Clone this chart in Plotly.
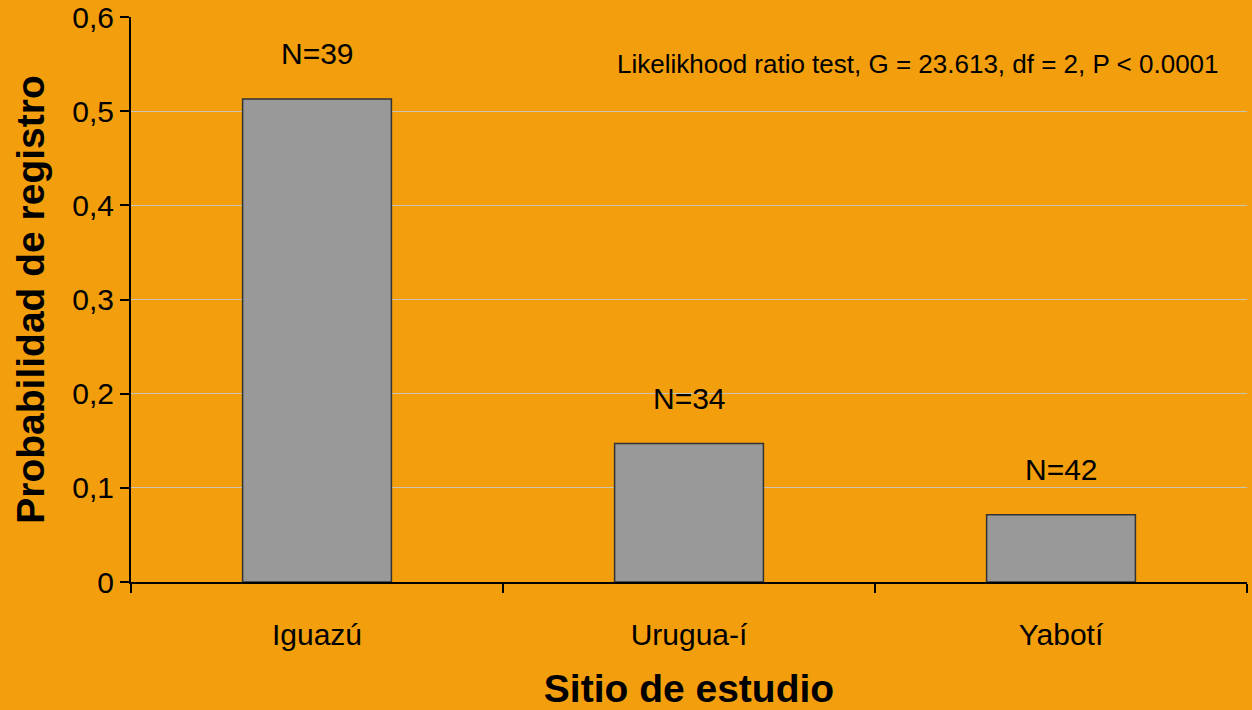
import plotly.graph_objects as go

sitios = ["Iguazú", "Urugua-í", "Yabotí"]
probabilidad = [0.513, 0.147, 0.0714]
n_labels = ["N=39", "N=34", "N=42"]
y_ticks = [0, 0.1, 0.2, 0.3, 0.4, 0.5, 0.6]

fondo = "#F39E0C"

fig = go.Figure()

fig.add_trace(go.Bar(
    x=sitios,
    y=probabilidad,
    marker=dict(color="#999999", line=dict(color="#333333", width=1.5)),
    width=0.4,
    showlegend=False
))

# etiquetas N sobre las barras
for s, p, n in zip(sitios, probabilidad, n_labels):
    fig.add_annotation(
        x=s, y=p, text=n, showarrow=False,
        yshift=45, font=dict(size=30, color="black")
    )

fig.add_annotation(
    xref="paper", yref="paper", x=0.977, y=0.917,
    xanchor="right", yanchor="middle", showarrow=False,
    text="Likelikhood ratio test, G = 23.613, df = 2, P < 0.0001",
    font=dict(size=26, color="black")
)

fig.update_layout(
    width=1252, height=710,
    paper_bgcolor=fondo,
    plot_bgcolor=fondo,
    separators=",.",
    font=dict(family="Liberation Sans, Arial, sans-serif", size=30, color="black"),
    margin=dict(l=131, r=5, t=17, b=128, autoexpand=False),
    xaxis=dict(
        title=dict(text="<b>Sitio de estudio</b>", font=dict(size=39), standoff=29),
        showline=True, linecolor="black", linewidth=2,
        ticks="outside", tickson="boundaries", ticklen=9, tickcolor="black", tickwidth=1.5,
        ticklabelstandoff=25,
        showgrid=False,
        automargin=True
    ),
    yaxis=dict(
        title=dict(text="<b>Probabilidad de registro</b>", font=dict(size=39), standoff=16),
        range=[0, 0.6],
        tickvals=y_ticks,
        showline=True, linecolor="black", linewidth=2,
        ticks="outside", ticklen=9, tickcolor="black", tickwidth=1.5,
        showgrid=True, gridcolor="#C9C4B8", gridwidth=1,
        zeroline=False,
        automargin=False
    )
)

# sin margen blanco alrededor del gráfico
fig.write_html(
    "out.html",
    config={"displayModeBar": False},
    post_script="document.body.style.margin='0px';"
)
